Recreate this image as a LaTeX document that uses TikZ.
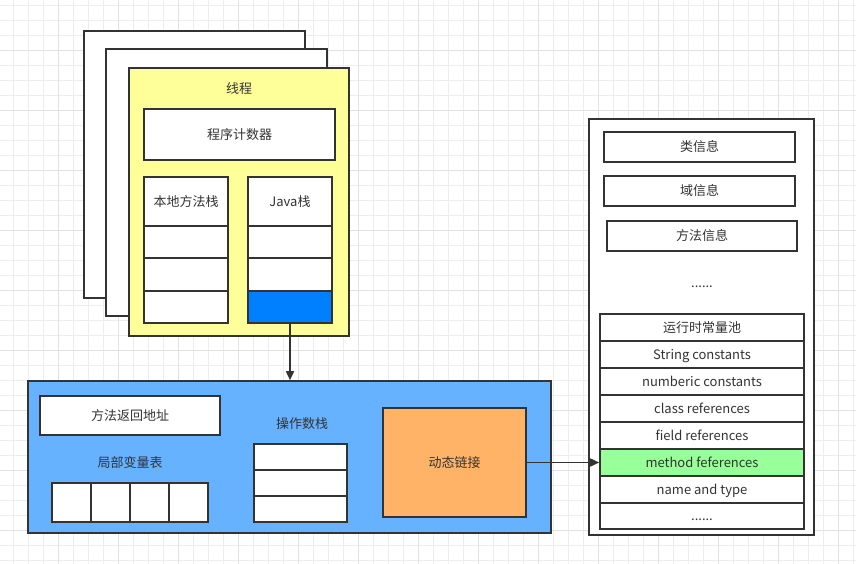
\documentclass[tikz,border=0pt]{standalone}
\usepackage{fontspec}
\setmainfont{Noto Sans CJK SC}
\usetikzlibrary{arrows.meta}
\definecolor{linec}{HTML}{333333}
\definecolor{gridminor}{HTML}{EDEDED}
\definecolor{gridmajor}{HTML}{E2E2E2}
\definecolor{threadfill}{HTML}{FFFF99}
\definecolor{framefill}{HTML}{66B2FF}
\definecolor{dynfill}{HTML}{FFB366}
\definecolor{greenfill}{HTML}{99FF99}
\definecolor{javablue}{HTML}{007FFF}
\tikzset{
  box/.style={draw=linec, line width=1.6pt, fill=white, inner sep=0pt, text=linec,
    font=\fontsize{13}{15}\selectfont, text height=10.5pt, text depth=1pt},
  lbl/.style={text=linec, inner sep=0pt, font=\fontsize{13}{15}\selectfont,
    text height=10.5pt, text depth=1pt},
  conn/.style={draw=linec, line width=1.6pt, -{Triangle[length=9pt,width=8pt]}},
}
\begin{document}
\begin{tikzpicture}[x=1pt,y=-1pt]
\useasboundingbox (0,0) rectangle (856,564);
\fill[white] (0,0) rectangle (856,564);
% grid
\foreach \i in {0,...,56} {
  \pgfmathtruncatemacro{\xx}{13+15*\i}
  \draw[gridminor, line width=0.8pt] (\xx,0) -- (\xx,564);
}
\foreach \i in {0,...,37} {
  \pgfmathtruncatemacro{\yy}{5+15*\i}
  \draw[gridminor, line width=0.8pt] (0,\yy) -- (856,\yy);
}
\foreach \i in {0,...,13} {
  \pgfmathtruncatemacro{\xx}{58+60*\i}
  \draw[gridmajor, line width=0.8pt] (\xx,0) -- (\xx,564);
}
\foreach \i in {0,...,9} {
  \pgfmathtruncatemacro{\yy}{50+60*\i}
  \draw[gridmajor, line width=0.8pt] (0,\yy) -- (856,\yy);
}

% thread stack of pages
\node[box, minimum width=221pt, minimum height=267pt] (back1) at (194.5,164.5) {};
\node[box, minimum width=221pt, minimum height=267pt] (back2) at (216.5,182.5) {};
\node[box, fill=threadfill, minimum width=220pt, minimum height=268pt] (thread) at (239,202) {};
\node[lbl] (threadlbl) at (239,89) {线程};
\node[box, minimum width=191pt, minimum height=51pt] (pc) at (239.5,134.5) {程序计数器};

\node[box, minimum width=84pt, minimum height=49pt] (n1) at (186,201.5) {本地方法栈};
\node[box, minimum width=84pt, minimum height=32pt] (n2) at (186,242) {};
\node[box, minimum width=84pt, minimum height=33pt] (n3) at (186,274.5) {};
\node[box, minimum width=84pt, minimum height=32pt] (n4) at (186,307) {};

\node[box, minimum width=84pt, minimum height=49pt] (j1) at (290,201.5) {Java栈};
\node[box, minimum width=84pt, minimum height=32pt] (j2) at (290,242) {};
\node[box, minimum width=84pt, minimum height=33pt] (j3) at (290,274.5) {};
\node[box, fill=javablue, minimum width=84pt, minimum height=32pt] (j4) at (290,307) {};

% stack frame
\node[box, fill=framefill, minimum width=523pt, minimum height=152pt] (frame) at (289.5,457) {};
\node[box, minimum width=180pt, minimum height=39pt] (ret) at (130,415.5) {方法返回地址};
\node[lbl] (locallbl) at (130,463) {局部变量表};
\node[box, minimum width=39pt, minimum height=39pt] (l1) at (71.5,502.5) {};
\node[box, minimum width=39pt, minimum height=39pt] (l2) at (110.5,502.5) {};
\node[box, minimum width=39pt, minimum height=39pt] (l3) at (149.5,502.5) {};
\node[box, minimum width=39pt, minimum height=39pt] (l4) at (188.5,502.5) {};
\node[lbl] (opslbl) at (302,424) {操作数栈};
\node[box, minimum width=93pt, minimum height=26pt] (o1) at (300.5,457) {};
\node[box, minimum width=93pt, minimum height=26pt] (o2) at (300.5,483) {};
\node[box, minimum width=93pt, minimum height=26pt] (o3) at (300.5,509) {};
\node[box, fill=dynfill, minimum width=143pt, minimum height=109pt] (dyn) at (454.5,462.5) {动态链接};

% method area
\node[box, minimum width=225pt, minimum height=416pt] (area) at (701.5,327) {};
\node[box, minimum width=191pt, minimum height=30pt] (cls) at (699.5,147) {类信息};
\node[box, minimum width=191pt, minimum height=30pt] (fld) at (699.5,191) {域信息};
\node[box, minimum width=190pt, minimum height=30pt] (mth) at (702,236) {方法信息};
\node[lbl] (dots1) at (702,283) {......};

\node[box, minimum width=204pt, minimum height=27pt] (p1) at (702,327.5) {运行时常量池};
\node[box, minimum width=204pt, minimum height=27pt] (p2) at (702,354.5) {String constants};
\node[box, minimum width=204pt, minimum height=27pt] (p3) at (702,381.5) {numberic constants};
\node[box, minimum width=204pt, minimum height=27pt] (p4) at (702,408.5) {class references};
\node[box, minimum width=204pt, minimum height=27pt] (p5) at (702,435.5) {field references};
\node[box, fill=greenfill, minimum width=204pt, minimum height=27pt] (p6) at (702,462.5) {method feferences};
\node[box, minimum width=204pt, minimum height=27pt] (p7) at (702,489.5) {name and type};
\node[box, minimum width=204pt, minimum height=26pt] (p8) at (702,516) {......};

% connectors
\draw[conn] (j4.south) -- (j4.south |- frame.north);
\draw[conn] (dyn.east) -- (p6.west);
\end{tikzpicture}
\end{document}
